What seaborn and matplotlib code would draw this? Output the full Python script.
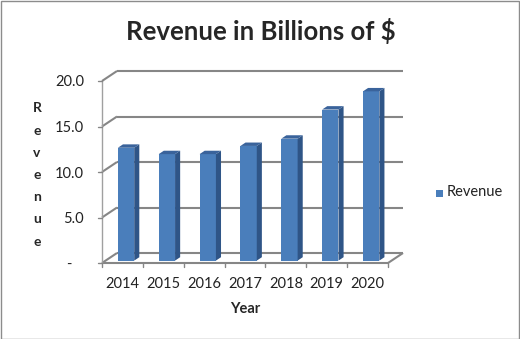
import matplotlib
matplotlib.use("Agg")
import matplotlib.pyplot as plt
from matplotlib.patches import Polygon, Rectangle
import seaborn as sns
import pandas as pd

# Data
years = ["2014", "2015", "2016", "2017", "2018", "2019", "2020"]
revenue = [12.4, 11.7, 11.7, 12.6, 13.4, 16.6, 18.6]
y_ticks = [0, 5, 10, 15, 20]
y_tick_labels = ["-   ", "5.0", "10.0", "15.0", "20.0"]

sns.set_theme(style="white")
plt.rcParams["font.family"] = ["Lato", "DejaVu Sans"]

W, H, DPI = 520, 339, 100
fig = plt.figure(figsize=(W / DPI, H / DPI), dpi=DPI)
fig.patch.set_facecolor("white")

# front plane of the plot area in pixels
x_left, x_right = 102, 388
y_bottom, y_top = 263, 81
ax = fig.add_axes([x_left / W, 1 - y_bottom / H,
                   (x_right - x_left) / W, (y_bottom - y_top) / H])
ax.set_xlim(-0.5, 6.5)
ax.set_ylim(0, 20)
ax.set_facecolor("none")
for s in ax.spines.values():
    s.set_visible(False)

# depth of the pseudo-3D box, in data units
px_x = (x_right - x_left) / 7.0
px_y = (y_bottom - y_top) / 20.0
DX = 15 / px_x
DY = 10 / px_y

grid_c = "#868686"
frame_kw = dict(color=grid_c, lw=1.5, clip_on=False, zorder=1, solid_capstyle="butt")

# back wall gridlines with their side-wall diagonals
for v in y_ticks:
    ax.plot([-0.5 + DX, 6.5 + DX], [v + DY, v + DY], **frame_kw)
    ax.plot([-0.5, -0.5 + DX], [v, v + DY], **frame_kw)

# floor front edge and right edge
ax.plot([-0.5, 6.5], [0, 0], **frame_kw)
ax.plot([6.5, 6.5 + DX], [0, DY], **frame_kw)

# front value axis
ax.plot([-0.5, -0.5], [0, 20], color="#a0a0a0", lw=1.0, clip_on=False, zorder=1)

df = pd.DataFrame({"Year": years, "Revenue": revenue})
sns.barplot(data=df, x="Year", y="Revenue", color="#4a7ebb", width=0.4,
            saturation=1, ax=ax, zorder=3, label="Revenue")
ax.set_xlim(-0.5, 6.5)
ax.set_ylim(0, 20)

# place bars into the depth of the box and add side and top faces
f_front, f_back = 0.24, 0.58
side_c = "#2f5587"
top_c = "#3a639b"
for p in ax.patches:
    x0 = p.get_x() + f_front * DX
    w = p.get_width()
    h = p.get_height()
    y0 = f_front * DY
    p.set_x(x0)
    p.set_y(y0)
    p.set_edgecolor("none")
    ddx = (f_back - f_front) * DX
    ddy = (f_back - f_front) * DY
    side = Polygon([[x0 + w, y0], [x0 + w + ddx, y0 + ddy],
                    [x0 + w + ddx, y0 + h + ddy], [x0 + w, y0 + h]],
                   closed=True, facecolor=side_c, edgecolor="none",
                   zorder=3, clip_on=False)
    top = Polygon([[x0, y0 + h], [x0 + w, y0 + h],
                   [x0 + w + ddx, y0 + h + ddy], [x0 + ddx, y0 + h + ddy]],
                  closed=True, facecolor=top_c, edgecolor="none",
                  zorder=3, clip_on=False)
    ax.add_patch(side)
    ax.add_patch(top)
    p.set_clip_on(False)

# ticks
ax.set_yticks(y_ticks)
ax.set_yticklabels(y_tick_labels)
ax.set_xticks(range(len(years)))
ax.set_xticklabels(years)
ax.tick_params(axis="y", length=0, pad=13, labelsize=10.5, labelcolor="#222222")
ax.tick_params(axis="x", length=0, pad=10, labelsize=10.5, labelcolor="#222222")

# category boundary ticks below the floor and value ticks on the left
for b in [i - 0.5 for i in range(len(years) + 1)]:
    ax.plot([b, b], [0, -4 / px_y], color=grid_c, lw=1.0, clip_on=False)
for v in y_ticks:
    ax.plot([-0.5 - 4 / px_x, -0.5], [v, v], color=grid_c, lw=1.0, clip_on=False)

ax.set_xlabel("Year", fontsize=10.5, fontweight="bold", labelpad=8)
ax.set_ylabel("")

# stacked vertical axis title
fig.text(37 / W, 1 - 175 / H, "R\ne\nv\ne\nn\nu\ne", ha="center", va="center",
         fontsize=10, fontweight="bold", linespacing=2.02)

fig.text(261 / W, 1 - 31 / H, "Revenue in Billions of $", ha="center", va="center",
         fontsize=18.5, fontweight="bold")

# legend
fig.patches.append(Rectangle((436 / W, 1 - 197 / H), 7 / W, 7 / H,
                             transform=fig.transFigure, facecolor="#4a7ebb",
                             edgecolor="none"))
fig.text(447 / W, 1 - 192 / H, "Revenue", ha="left", va="center", fontsize=10.5,
         color="#222222")
leg = ax.get_legend()
if leg is not None:
    leg.remove()

# chart border
fig.patches.append(Rectangle((0.5 / W, 0.5 / H), 1 - 1.5 / W, 1 - 1.5 / H,
                             transform=fig.transFigure, facecolor="none",
                             edgecolor="#8c8c8c", lw=1.0))

fig.savefig("out.png", dpi=DPI)
